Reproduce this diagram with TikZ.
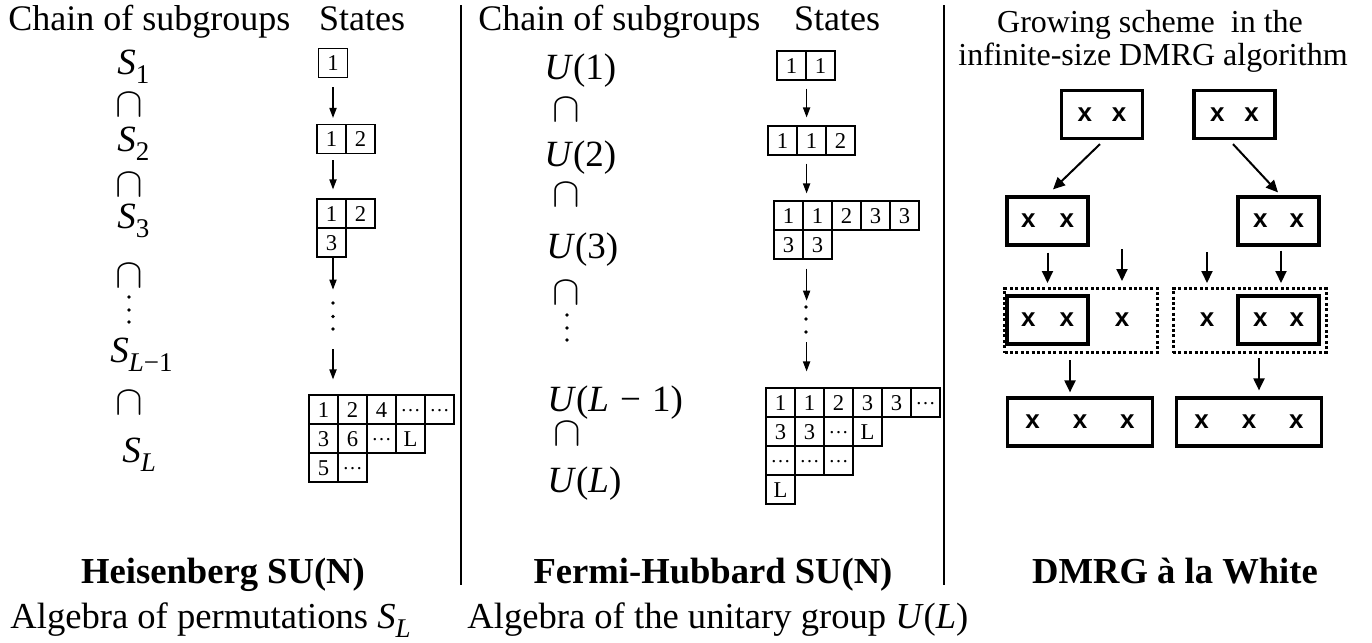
\documentclass[tikz,border=0pt]{standalone}
\usepackage{fontspec}
\setmainfont{Liberation Serif}
\newfontfamily\xsans{Liberation Sans}
\usetikzlibrary{arrows.meta,calc}

% lowered subscript for group names
\newcommand\gsub[1]{\raisebox{-0.27em}{\fontsize{13.5}{14}\selectfont #1}}
% ellipsis set on the mid line of a tableau cell
\newcommand\cdts{\raisebox{2.8pt}{\fontsize{10}{11}\selectfont …}}

\begin{document}
\begin{tikzpicture}[x=0.5pt,y=-0.5pt,
  title/.style={inner sep=0pt, font=\fontsize{18}{21}\selectfont},
  rtitle/.style={inner sep=0pt, anchor=base, font=\fontsize{16}{19}\selectfont},
  grp/.style={inner sep=0pt, anchor=base west, font=\fontsize{18.5}{22}\selectfont},
  capn/.style={inner sep=0pt, font=\fontsize{19.5}{22}\selectfont},
  label/.style={inner sep=0pt, anchor=base, font=\fontsize{18.3}{21}\selectfont\bfseries},
  alg/.style={inner sep=0pt, anchor=base west, font=\fontsize{18.3}{21}\selectfont},
  cell/.style={draw, line width=0.6pt, minimum width=14.5pt, minimum height=14.5pt,
    inner sep=0pt, text height=7.6pt, text depth=0pt, font=\fontsize{11.3}{13}\selectfont},
  yarr/.style={line width=0.65pt, -{Triangle[length=5pt,width=3.6pt]}},
  barr/.style={line width=1pt, -{Triangle[length=6pt,width=5.5pt]}},
  blk/.style={draw, line width=1.6pt, inner sep=0pt, minimum height=24pt,
    font=\xsans\bfseries\fontsize{13}{15}\selectfont},
  sbox/.style={blk, minimum width=40.5pt},
  lbox/.style={blk, minimum width=72.5pt},
  dbox/.style={draw, line width=1.5pt, dash pattern=on 1.5pt off 1.2pt,
    minimum width=76.5pt, minimum height=32pt, inner sep=0pt},
  xonly/.style={inner sep=0pt, font=\xsans\bfseries\fontsize{13}{15}\selectfont},
  divider/.style={line width=1pt},
  vdot/.style={fill=black}
]
\useasboundingbox (0,0) rectangle (1372,643);

% ---------------- Heisenberg SU(N) ----------------
\node[title, anchor=base west] (chainA) at (8,30) {Chain of subgroups};
\node[title, anchor=base] (statesA) at (362,30) {States};

\node[grp] (s1) at (117,74) {\textit{S}\gsub{1}};
\node[capn] (k1) at (129,105) {$\cap$};
\node[grp] (s2) at (117,151) {\textit{S}\gsub{2}};
\node[capn] (k2) at (129,185) {$\cap$};
\node[grp] (s3) at (117,228) {\textit{S}\gsub{3}};
\node[capn] (k3) at (129,276) {$\cap$};
\foreach \yy in {297,310,322} \fill[vdot] (129,\yy) circle (0.9pt);
\node[grp] (s4) at (110,362) {\textit{S}\gsub{\textit{L}−1}};
\node[capn] (k4) at (129,403) {$\cap$};
\node[grp] (s5) at (122,462) {\textit{S}\gsub{\textit{L}}};

% Young tableaux
\node[cell] (a1) at (333,63) {1};
\node[cell] (b1) at (331.5,139) {1};
\node[cell] (b2) at (360.5,139) {2};
\node[cell] (c1) at (331.5,213.5) {1};
\node[cell] (c2) at (360.5,213.5) {2};
\node[cell] (c3) at (331.5,242.5) {3};

\node[cell] (d11) at (323.5,409.5) {1};
\node[cell] (d12) at (352.5,409.5) {2};
\node[cell] (d13) at (381.5,409.5) {4};
\node[cell] (d14) at (410.5,409.5) {\cdts};
\node[cell] (d15) at (439.5,409.5) {\cdts};
\node[cell] (d21) at (323.5,438.5) {3};
\node[cell] (d22) at (352.5,438.5) {6};
\node[cell] (d23) at (381.5,438.5) {\cdts};
\node[cell] (d24) at (410.5,438.5) {L};
\node[cell] (d31) at (323.5,467.5) {5};
\node[cell] (d32) at (352.5,467.5) {\cdts};

\draw[yarr] ($(a1.south)+(0,9)$) -- ($(b1.north -| a1.south)+(0,-6)$);
\draw[yarr] ($(b1.south -| a1.south)+(0,6)$) -- ($(c1.north -| a1.south)+(0,-9)$);
\coordinate (ta) at ($(c3.south -| a1.south)+(0,32)$);
\draw[yarr] (c3.south -| a1.south) -- (ta);
\foreach \yy in {303,316.5,329} \fill[vdot] (333,\yy) circle (0.9pt);
\coordinate (tb) at ($(d11.north -| a1.south)+(0,-45)$);
\draw[yarr] (tb) -- ($(d11.north -| a1.south)+(0,-15)$);

% ---------------- Fermi-Hubbard SU(N) ----------------
\node[title, anchor=base west] (chainB) at (478,30) {Chain of subgroups};
\node[title, anchor=base] (statesB) at (837,30) {States};

\node[grp] (u1) at (544,79) {\textit{U}(1)};
\node[capn] (l1) at (566,110) {$\cap$};
\node[grp] (u2) at (544,166) {\textit{U}(2)};
\node[capn] (l2) at (566,195) {$\cap$};
\node[grp] (u3) at (546,258) {\textit{U}(3)};
\node[capn] (l3) at (566,293) {$\cap$};
\foreach \yy in {315,328,340} \fill[vdot] (567,\yy) circle (0.9pt);
\node[grp] (u4) at (547,411) {\textit{U}(\textit{L}\hspace{0.3em}−\hspace{0.3em}1)};
\node[capn] (l4) at (567,434) {$\cap$};
\node[grp] (u5) at (547,492) {\textit{U}(\textit{L})};

\node[cell] (e1) at (791.5,65.5) {1};
\node[cell] (e2) at (820.5,65.5) {1};
\node[cell] (f1) at (782.5,140.5) {1};
\node[cell] (f2) at (811.5,140.5) {1};
\node[cell] (f3) at (840.5,140.5) {2};
\node[cell] (g1) at (788.5,215.5) {1};
\node[cell] (g2) at (817.5,215.5) {1};
\node[cell] (g3) at (846.5,215.5) {2};
\node[cell] (g4) at (875.5,215.5) {3};
\node[cell] (g5) at (904.5,215.5) {3};
\node[cell] (g6) at (788.5,244.5) {3};
\node[cell] (g7) at (817.5,244.5) {3};

\node[cell] (h11) at (780.5,402.5) {1};
\node[cell] (h12) at (809.5,402.5) {1};
\node[cell] (h13) at (838.5,402.5) {2};
\node[cell] (h14) at (867.5,402.5) {3};
\node[cell] (h15) at (896.5,402.5) {3};
\node[cell] (h16) at (925.5,402.5) {\cdts};
\node[cell] (h21) at (780.5,431.5) {3};
\node[cell] (h22) at (809.5,431.5) {3};
\node[cell] (h23) at (838.5,431.5) {\cdts};
\node[cell] (h24) at (867.5,431.5) {L};
\node[cell] (h31) at (780.5,460.5) {\cdts};
\node[cell] (h32) at (809.5,460.5) {\cdts};
\node[cell] (h33) at (838.5,460.5) {\cdts};
\node[cell] (h41) at (780.5,489.5) {L};

\draw[yarr] ($(e1.south east)+(0,8)$) -- ($(f1.north -| e1.south east)+(0,-8)$);
\draw[yarr] ($(f1.south -| e1.south east)+(0,8)$) -- ($(g1.north -| e1.south east)+(0,-7)$);
\coordinate (tc) at ($(g6.south -| e1.south east)+(0,41)$);
\draw[yarr] ($(g6.south -| e1.south east)+(0,9)$) -- (tc);
\foreach \yy in {307,319,332} \fill[vdot] (806,\yy) circle (0.9pt);
\coordinate (td) at ($(h11.north -| e1.south east)+(0,-45)$);
\draw[yarr] (td) -- ($(h11.north -| e1.south east)+(0,-16)$);

% ---------------- DMRG growing scheme ----------------
\node[rtitle] (gs1) at (1150,32) {Growing scheme\ \ in the};
\node[rtitle] (gs2) at (1153,65) {infinite-size DMRG algorithm};

\node[sbox] (tl) at (1102,114.5) {x\hspace{10pt}x};
\node[sbox] (tr) at (1234.5,114.5) {x\hspace{10pt}x};
\node[sbox] (ml) at (1047.5,221) {x\hspace{12pt}x};
\node[sbox] (mr) at (1278.5,221) {x\hspace{11pt}x};
\node[dbox] (dl) at (1081,320.5) {};
\node[dbox] (dr) at (1249.5,320.5) {};
\node[sbox] (il) at (1047.5,320) {x\hspace{12pt}x};
\node[sbox] (ir) at (1278.5,320) {x\hspace{11pt}x};
\node[xonly] (xl) at (1122,320) {x};
\node[xonly] (xr) at (1207,320) {x};
\node[lbox] (bl) at (1080,422) {x\hspace{16.5pt}x\hspace{16.5pt}x};
\node[lbox] (br) at (1249,422) {x\hspace{16.5pt}x\hspace{16.5pt}x};

\draw[barr] ($(tl.south)+(-2,4)$) -- ($(ml.north)+(5.5,-6)$);
\draw[barr] ($(tr.south)+(-1.5,4)$) -- ($(mr.north)+(-0.5,-3)$);
\draw[barr] ($(ml.south)+(0,6)$) -- ($(dl.north -| ml.south)+(0,-4)$);
\coordinate (pl) at ($(dl.north -| xl)+(0,-38)$);
\draw[barr] (pl) -- ($(dl.north -| xl)+(0,-6)$);
\coordinate (pr) at ($(dr.north -| xr)+(0,-35)$);
\draw[barr] (pr) -- ($(dr.north -| xr)+(0,-4)$);
\draw[barr] ($(mr.south)+(2.5,4)$) -- ($(dr.north -| mr.south)+(2.5,-4)$);
\coordinate (ql) at ($(dl.south)+(-11,6)$);
\draw[barr] (ql) -- ($(bl.north -| ql)+(0,-4)$);
\coordinate (qr) at ($(dr.south)+(9.5,4)$);
\draw[barr] (qr) -- ($(br.north -| qr)+(0,-6)$);

% ---------------- panel separators and captions ----------------
\draw[divider] (461,5) -- (461,585);
\draw[divider] (944,5) -- (944,585);

\node[label] (hb) at (223,583) {Heisenberg SU(N)};
\node[label] (fh) at (713,583) {Fermi-Hubbard SU(N)};
\node[label] (dw) at (1175,583) {DMRG à la White};
\node[alg] (ap) at (10,628) {Algebra of permutations \textit{S}\gsub{\textit{L}}};
\node[alg] (au) at (467,628) {Algebra of the unitary group \textit{U}(\textit{L})};
\end{tikzpicture}
\end{document}
